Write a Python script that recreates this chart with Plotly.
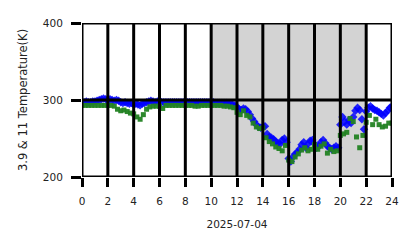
import numpy as np
import plotly.graph_objects as go

# Blue series (3.9 um), 10-minute cadence
blue_vals = [
    297,297,298,297,297,298,
    298,299,300,301,302,301,
    300,301,300,299,300,299,
    297,296,297,296,295,296,
    294,295,294,293,295,296,
    297,298,299,298,297,298,
    299,297,297,297,297,297,
    297,297,297,297,297,297,
    297,297,297,297,297,297,
    297,297,297,297,297,297,
    297,297,296,296,296,296,
    296,296,295,295,294,293,
    291,288,287,289,288,285,
    281,276,272,268,265,264,
    265,266,256,252,251,249,
    246,244,243,248,250,245,
    224,220,226,230,232,236,
    242,245,238,243,247,248,
    243,238,240,245,248,244,
    240,238,236,238,240,238,
    268,278,272,268,274,270,
    278,286,290,287,275,262,
    285,290,292,289,287,286,
    284,282,280,283,286,290,
    292,
]
blue_t = [i / 6 for i in range(len(blue_vals))]

# Green series (11 um), 15-minute cadence
green_vals = [
    293,293,293,293,
    293,293,293,293,
    293,293,292,288,
    286,287,285,283,
    282,278,275,281,
    288,291,292,292,
    292,289,293,293,
    293,293,293,293,
    293,293,293,292,
    292,293,293,293,
    293,293,293,293,
    292,292,291,290,
    284,281,286,280,
    278,270,265,263,
    264,251,246,243,
    239,237,234,241,
    222,220,226,230,
    235,238,234,236,
    242,236,240,243,
    231,236,233,234,
    254,256,258,276,
    272,252,238,254,
    271,280,268,275,
    268,265,266,270,
    270,
]
green_t = [i / 4 for i in range(len(green_vals))]

night_start, night_end = 10.0, 21.9
x_ticks = list(range(0, 25, 2))
y_ticks = [200, 300, 400]

fig = go.Figure()
fig.add_trace(go.Scatter(x=blue_t, y=blue_vals, mode="markers",
                         marker=dict(symbol="diamond", size=6.5, color="rgba(0,0,255,0.85)",
                                     line=dict(width=0)),
                         showlegend=False))
fig.add_trace(go.Scatter(x=green_t, y=green_vals, mode="markers",
                         marker=dict(symbol="square", size=5, color="rgba(34,130,34,0.95)",
                                     line=dict(width=0)),
                         showlegend=False))

fig.add_shape(type="rect", xref="x", yref="y", x0=night_start, x1=night_end, y0=200, y1=400,
              fillcolor="#d3d3d3", line=dict(width=0), layer="below")

# grid drawn above the data, as in the reference
for xv in x_ticks:
    fig.add_shape(type="line", xref="x", yref="y", x0=xv, x1=xv, y0=200, y1=400,
                  line=dict(color="black", width=3), layer="above")
for yv in y_ticks:
    fig.add_shape(type="line", xref="x", yref="y", x0=0, x1=24, y0=yv, y1=yv,
                  line=dict(color="black", width=3), layer="above")

fig.update_layout(
    width=418, height=248,
    margin=dict(l=82, r=26, t=23, b=71),
    paper_bgcolor="white", plot_bgcolor="white",
    font=dict(family="DejaVu Sans", size=10.5, color="#222"),
)
fig.update_xaxes(range=[0, 24], tickvals=x_ticks, ticktext=[str(v) for v in x_ticks],
                 showgrid=False, zeroline=False, showline=False,
                 ticks="outside", ticklen=9, tickwidth=3, tickcolor="black",
                 ticklabelstandoff=5,
                 title=dict(text="2025-07-04", font=dict(size=10.5), standoff=15),
                 tickfont=dict(size=10.5))
fig.update_yaxes(range=[200, 400], tickvals=y_ticks,
                 showgrid=False, zeroline=False, showline=False,
                 ticks="outside", ticklen=10, tickwidth=3, tickcolor="black",
                 ticklabelstandoff=6,
                 title=dict(text="3.9 & 11 Temperature(K)", font=dict(size=11.5), standoff=12),
                 tickfont=dict(size=10.5))

fig.write_html("out.html")
